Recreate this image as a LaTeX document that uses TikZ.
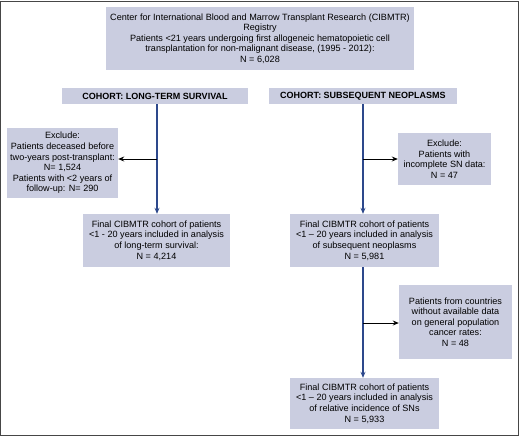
\documentclass[tikz,border=0pt]{standalone}
\usepackage{fontspec}
\setmainfont{Liberation Sans}
\usetikzlibrary{arrows.meta}
\definecolor{boxfill}{RGB}{202,205,224}
\definecolor{lineblue}{RGB}{45,72,140}
\definecolor{framegray}{RGB}{70,70,70}
\begin{document}
\begin{tikzpicture}[x=1pt,y=1pt,
  box/.style={fill=boxfill, draw=none, align=center, inner sep=1pt,
    font=\fontsize{9.1}{10.6}\selectfont},
  hdr/.style={fill=boxfill, draw=none, align=center, inner sep=0pt,
    font=\fontsize{9}{10}\selectfont\bfseries},
  vline/.style={draw=lineblue, line width=1.2pt},
  varrow/.style={vline, -{Stealth[length=6pt,width=5pt]}},
  harrow/.style={draw=black, line width=1pt, -{Stealth[length=6pt,width=5pt]}}]
\useasboundingbox (0,0) rectangle (520,-437);
\draw[framegray, line width=1pt] (0.5,-1) rectangle (518,-435);

\node[box, minimum width=308pt, minimum height=63pt] (top) at (260,-38.5)
  {Center for International Blood and Marrow Transplant Research (CIBMTR)\\
   Registry\\
   Patients <21 years undergoing first allogeneic hematopoietic cell\\
   transplantation for non-malignant disease, (1995 - 2012):\\
   N = 6,028};

\node[hdr, minimum width=186pt, minimum height=16pt] (lh) at (155,-96)
  {COHORT: LONG-TERM SURVIVAL};
\node[hdr, minimum width=188pt, minimum height=16pt] (rh) at (363,-96)
  {COHORT: SUBSEQUENT NEOPLASMS};

\node[box, minimum width=111pt, minimum height=70pt] (le) at (62.5,-163)
  {Exclude:\\
   Patients deceased before\\
   two-years post-transplant:\\
   N= 1,524\\
   Patients with <2 years of\\
   follow-up: N= 290};

\node[box, minimum width=147pt, minimum height=53pt] (lf) at (156.5,-240.5)
  {Final CIBMTR cohort of patients\\
   <1 - 20 years included in analysis\\
   of long-term survival:\\
   N = 4,214};

\node[box, minimum width=93pt, minimum height=52pt] (re1) at (444.5,-159)
  {Exclude:\\
   Patients with\\
   incomplete SN data:\\
   N = 47};

\node[box, minimum width=149pt, minimum height=53pt] (rf1) at (364.5,-240.5)
  {Final CIBMTR cohort of patients\\
   <1 – 20 years included in analysis\\
   of subsequent neoplasms\\
   N = 5,981};

\node[box, minimum width=113pt, minimum height=74pt] (re2) at (455.5,-322)
  {Patients from countries\\
   without available data\\
   on general population\\
   cancer rates:\\
   N = 48};

\node[box, minimum width=149pt, minimum height=51pt] (rf2) at (364.5,-403.5)
  {Final CIBMTR cohort of patients\\
   <1 – 20 years included in analysis\\
   of relative incidence of SNs\\
   N = 5,933};

\coordinate (lj) at (157,-159);
\coordinate (rj1) at (363,-159);
\coordinate (rj2) at (363,-323);

\draw[varrow] (157,-104) coordinate (ls) -- (lf.north -| ls);
\draw[harrow] (lj) -- (le.east |- lj);

\draw[varrow] (363,-104) coordinate (rs) -- (rf1.north -| rs);
\draw[harrow] (rj1) -- (re1.west |- rj1);
\draw[varrow] (rf1.south -| rs) -- (rf2.north -| rs);
\draw[harrow] (rj2) -- (re2.west |- rj2);
\end{tikzpicture}
\end{document}
